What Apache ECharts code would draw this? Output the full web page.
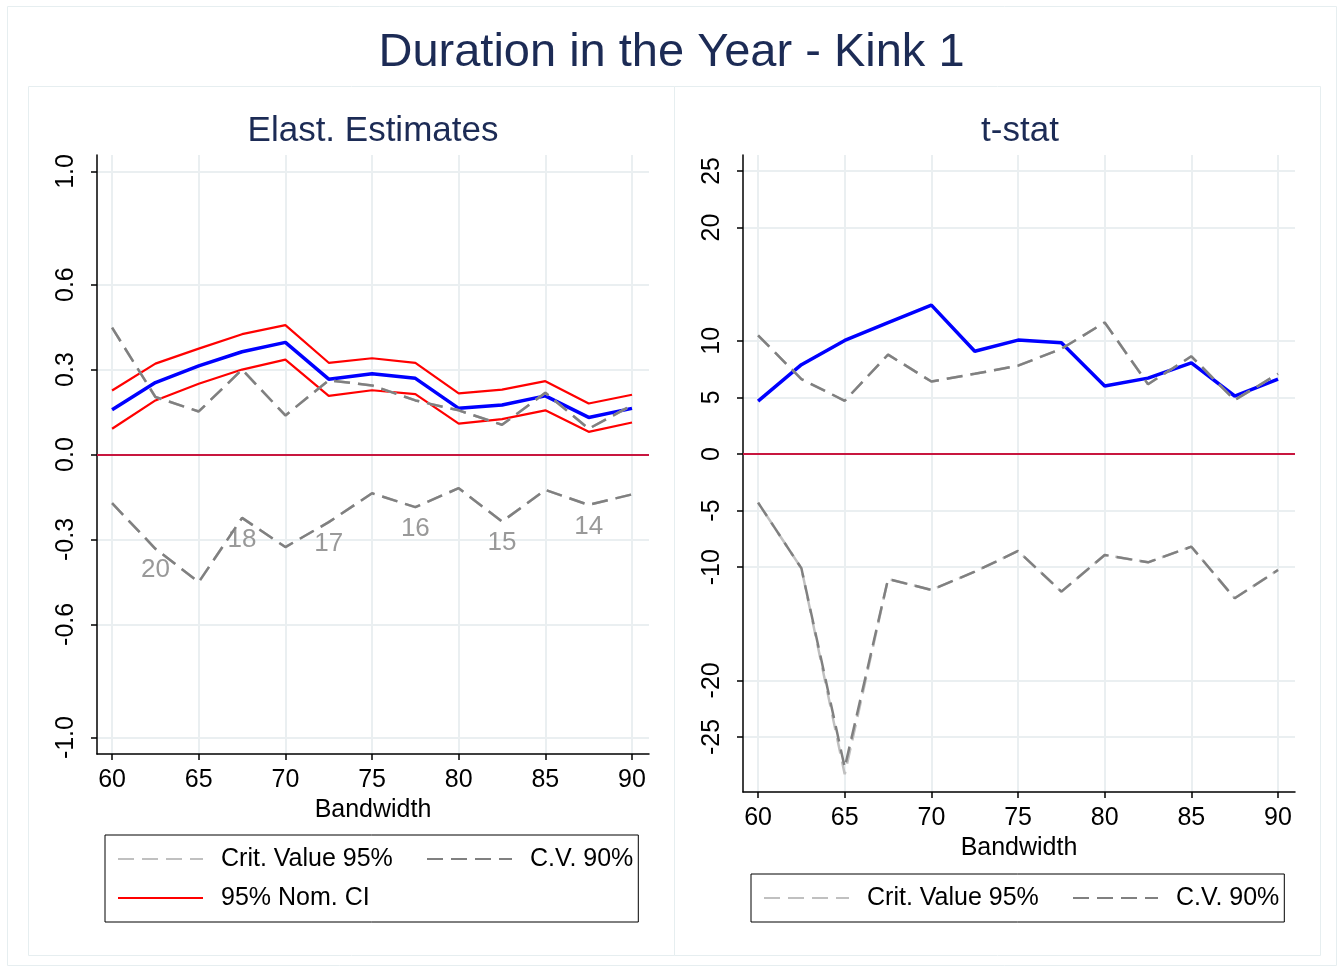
<!DOCTYPE html>
<html>
<head>
<meta charset="utf-8">
<title>Duration in the Year - Kink 1</title>
<script src="https://cdn.jsdelivr.net/npm/echarts@6/dist/echarts.min.js"></script>
<style>
  html, body { margin: 0; padding: 0; background: #fff; }
  #chart { width: 1343px; height: 972px; }
</style>
</head>
<body>
<div id="chart"></div>
<script>
// bandwidth grid shared by both panels
const bandwidth = [60, 62.5, 65, 67.5, 70, 72.5, 75, 77.5, 80, 82.5, 85, 87.5, 90]

// left panel: elasticity estimates
const elastEst = [0.158, 0.254, 0.313, 0.363, 0.396, 0.266, 0.285, 0.269, 0.163, 0.175, 0.207, 0.131, 0.163]
const elastCiHigh = [0.226, 0.321, 0.374, 0.425, 0.457, 0.324, 0.340, 0.324, 0.216, 0.229, 0.259, 0.180, 0.211]
const elastCiLow = [0.091, 0.191, 0.250, 0.300, 0.335, 0.207, 0.227, 0.213, 0.109, 0.125, 0.156, 0.080, 0.113]
const elastCrit95High = [0.448, 0.203, 0.152, 0.300, 0.138, 0.262, 0.244, 0.191, 0.156, 0.105, 0.218, 0.091, 0.174]
const elastCrit95Low = [-0.172, -0.333, -0.451, -0.224, -0.327, -0.239, -0.137, -0.186, -0.119, -0.237, -0.125, -0.178, -0.141]
const elastCv90High = [0.448, 0.203, 0.152, 0.300, 0.138, 0.262, 0.244, 0.191, 0.156, 0.105, 0.218, 0.091, 0.174]
const elastCv90Low = [-0.172, -0.333, -0.451, -0.224, -0.327, -0.239, -0.137, -0.186, -0.119, -0.237, -0.125, -0.178, -0.141]

// numbers printed under the lower band
const binBandwidth = [62.5, 67.5, 72.5, 77.5, 82.5, 87.5]
const binCounts = [20, 18, 17, 16, 15, 14]

// right panel: t-stat
const tStat = [4.67, 7.89, 10.03, 11.61, 13.15, 9.08, 10.06, 9.82, 6.01, 6.70, 8.04, 5.12, 6.61]
const tCrit95High = [10.48, 6.61, 4.70, 8.78, 6.40, 7.08, 7.80, 9.29, 11.61, 6.16, 8.63, 4.76, 7.08]
const tCrit95Low = [-4.30, -10.10, -28.30, -11.04, -12.01, -10.40, -8.57, -12.16, -8.92, -9.57, -8.19, -12.75, -10.25]
const tCv90High = [10.48, 6.61, 4.70, 8.78, 6.40, 7.08, 7.80, 9.29, 11.61, 6.16, 8.63, 4.76, 7.08]
const tCv90Low = [-4.30, -10.10, -27.70, -11.04, -12.01, -10.40, -8.57, -12.16, -8.92, -9.57, -8.19, -12.75, -10.25]

// tick labels
const xTicks = [60, 65, 70, 75, 80, 85, 90]
const elastTicks = [-1, -0.6, -0.3, 0, 0.3, 0.6, 1]
const tTicks = [-25, -20, -10, -5, 0, 5, 10, 20, 25]

const FONT = 'Liberation Sans, Arial, sans-serif'
const GRID_COLOR = '#eaeff1'
const LIGHT_GRAY = '#c0c0c0'
const DARK_GRAY = '#808080'
const DASH = [16, 8]

function pairs(xs, ys) {
  return xs.map((x, i) => [x, ys[i]])
}

function xAxis(gridIndex) {
  return {
    type: 'value',
    gridIndex: gridIndex,
    min: 59.13,
    max: 90.98,
    name: 'Bandwidth',
    nameLocation: 'middle',
    nameGap: 40,
    nameTextStyle: { fontSize: 25, color: '#000', fontFamily: FONT },
    axisLine: { show: true, onZero: false, lineStyle: { color: '#000', width: 1.5 } },
    axisTick: { show: true, length: 6, customValues: xTicks, lineStyle: { color: '#000', width: 1.5 } },
    axisLabel: { customValues: xTicks, fontSize: 25, color: '#000', fontFamily: FONT, margin: 14 },
    splitLine: { show: true, lineStyle: { color: GRID_COLOR, width: 2 } }
  }
}

function yAxis(gridIndex, min, max, ticks, fmt) {
  return {
    type: 'value',
    gridIndex: gridIndex,
    min: min,
    max: max,
    axisLine: { show: true, onZero: false, lineStyle: { color: '#000', width: 1.5 } },
    axisTick: { show: true, length: 6, customValues: ticks, lineStyle: { color: '#000', width: 1.5 } },
    axisLabel: { customValues: ticks, rotate: 90, fontSize: 25, color: '#000', fontFamily: FONT, margin: 18, formatter: fmt },
    splitLine: { show: true, lineStyle: { color: GRID_COLOR, width: 2 } }
  }
}

function line(name, idx, xs, ys, color, width, dashed, extra) {
  return Object.assign({
    name: name,
    type: 'line',
    xAxisIndex: idx,
    yAxisIndex: idx,
    data: pairs(xs, ys),
    symbol: 'none',
    lineStyle: { color: color, width: width, type: dashed ? DASH : 'solid' },
    itemStyle: { color: color },
    silent: true
  }, extra || {})
}

const zeroLine = {
  symbol: 'none',
  silent: true,
  label: { show: false },
  lineStyle: { color: '#c8163f', width: 2, type: 'solid' },
  data: [{ yAxis: 0 }]
}

const legendText = { fontSize: 25, color: '#000', fontFamily: FONT, padding: [0, 0, 0, 13], lineHeight: 30 }

const chart = echarts.init(document.getElementById('chart'))
chart.setOption({
  animation: false,
  backgroundColor: '#fff',
  title: [
    { text: 'Duration in the Year - Kink 1', left: 'center', top: 25,
      textStyle: { fontSize: 47, fontWeight: 'normal', color: '#1c2b55', fontFamily: FONT } },
    { text: 'Elast. Estimates', left: 368, textAlign: 'center', top: 109,
      textStyle: { fontSize: 35, fontWeight: 'normal', color: '#1c2b55', fontFamily: FONT } },
    { text: 't-stat', left: 1015, textAlign: 'center', top: 109,
      textStyle: { fontSize: 35, fontWeight: 'normal', color: '#1c2b55', fontFamily: FONT } }
  ],
  graphic: [
    { type: 'rect', shape: { x: 7.5, y: 6.5, width: 1329, height: 959 }, style: { fill: 'none', stroke: '#e6eef0', lineWidth: 1 } },
    { type: 'rect', shape: { x: 28.5, y: 86.5, width: 646, height: 869 }, style: { fill: 'none', stroke: '#e6eef0', lineWidth: 1 } },
    { type: 'rect', shape: { x: 674.5, y: 86.5, width: 646, height: 869 }, style: { fill: 'none', stroke: '#e6eef0', lineWidth: 1 } }
  ],
  legend: [
    {
      left: 105, top: 835, width: 520,
      orient: 'horizontal',
      borderColor: '#000', borderWidth: 1,
      padding: [9, 5, 9, 12],
      itemGap: 9, itemWidth: 85, itemHeight: 20,
      itemStyle: { opacity: 0 },
      textStyle: legendText,
      selectedMode: false,
      data: [
        { name: 'Crit. Value 95%', textStyle: { width: 196 } },
        'C.V. 90%',
        '95% Nom. CI'
      ]
    },
    {
      left: 751, top: 874,
      orient: 'horizontal',
      borderColor: '#000', borderWidth: 1,
      padding: [9, 5, 9, 12],
      itemGap: 9, itemWidth: 85, itemHeight: 20,
      itemStyle: { opacity: 0 },
      textStyle: legendText,
      selectedMode: false,
      data: [
        { name: 'Crit. Value 95%', textStyle: { width: 196 } },
        'C.V. 90%'
      ]
    }
  ],
  grid: [
    { left: 97, top: 155, width: 552, height: 599 },
    { left: 743, top: 155, width: 552, height: 637 }
  ],
  xAxis: [xAxis(0), xAxis(1)],
  yAxis: [
    yAxis(0, -1.058, 1.058, elastTicks, v => v.toFixed(1)),
    yAxis(1, -29.86, 26.41, tTicks, v => String(v))
  ],
  series: [
    // left panel
    line('95% Nom. CI', 0, bandwidth, elastCiHigh, '#ff0000', 2.2, false, { markLine: zeroLine }),
    line('95% Nom. CI', 0, bandwidth, elastCiLow, '#ff0000', 2.2, false),
    line('Estimate', 0, bandwidth, elastEst, '#0000ff', 3.5, false),
    line('Crit. Value 95%', 0, bandwidth, elastCrit95High, LIGHT_GRAY, 2.5, true),
    line('Crit. Value 95%', 0, bandwidth, elastCrit95Low, LIGHT_GRAY, 2.5, true),
    line('C.V. 90%', 0, bandwidth, elastCv90High, DARK_GRAY, 2.5, true),
    line('C.V. 90%', 0, bandwidth, elastCv90Low, DARK_GRAY, 2.5, true),
    {
      name: 'bins',
      type: 'scatter',
      xAxisIndex: 0,
      yAxisIndex: 0,
      silent: true,
      symbolSize: 1,
      itemStyle: { color: 'rgba(0,0,0,0)' },
      data: binBandwidth.map(b => [b, elastCv90Low[bandwidth.indexOf(b)]]),
      label: {
        show: true,
        position: 'bottom',
        distance: 8,
        fontSize: 26,
        color: DARK_GRAY,
        fontFamily: FONT,
        formatter: p => String(binCounts[p.dataIndex])
      }
    },
    // right panel
    line('t-stat', 1, bandwidth, tStat, '#0000ff', 3.5, false, { markLine: zeroLine }),
    line('Crit. Value 95%', 1, bandwidth, tCrit95High, LIGHT_GRAY, 2.5, true),
    line('Crit. Value 95%', 1, bandwidth, tCrit95Low, LIGHT_GRAY, 2.5, true, {
      lineStyle: { color: LIGHT_GRAY, width: 2.5, type: DASH, dashOffset: 12 }
    }),
    line('C.V. 90%', 1, bandwidth, tCv90High, DARK_GRAY, 2.5, true),
    line('C.V. 90%', 1, bandwidth, tCv90Low, DARK_GRAY, 2.5, true)
  ]
})
</script>
</body>
</html>
